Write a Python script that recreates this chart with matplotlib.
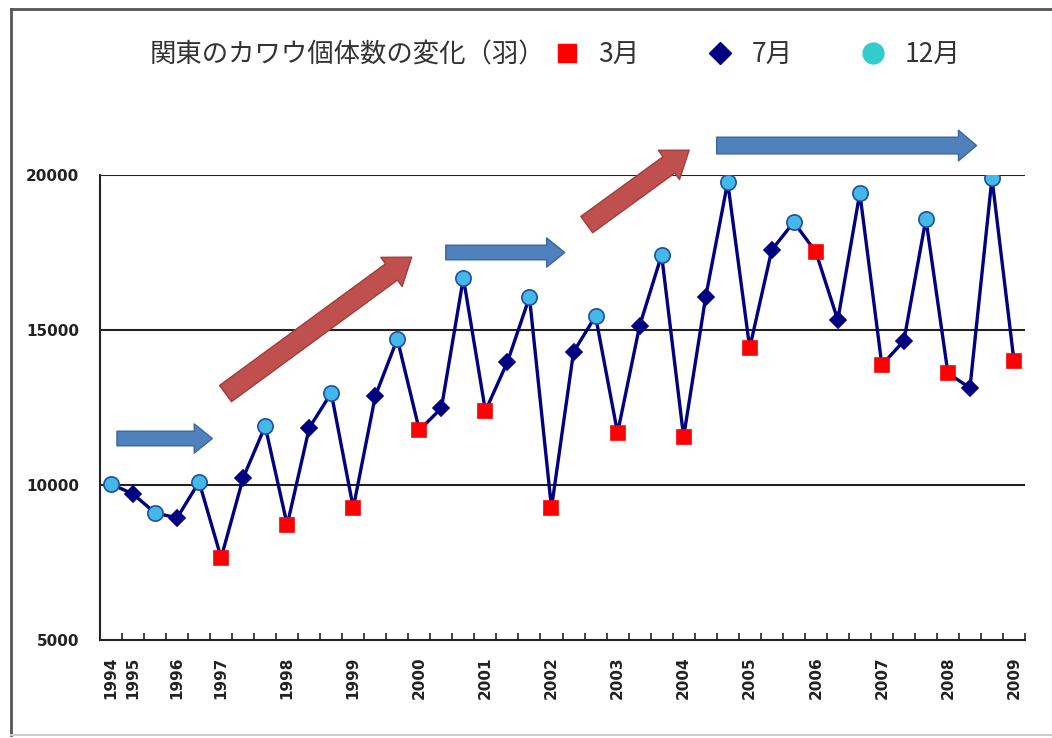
import matplotlib.pyplot as plt
from matplotlib.lines import Line2D

# 関東のカワウ個体数 (羽), 3月 / 7月 / 12月 の調査を時系列順に
months = ["12", "7", "12", "7", "12", "3", "7", "12", "3", "7", "12", "3", "7", "12",
          "3", "7", "12", "3", "7", "12", "3", "7", "12", "3", "7", "12", "3", "7",
          "12", "3", "7", "12", "3", "7", "12", "3", "7", "12", "3", "7", "12", "3"]
counts = [10030, 9710, 9100, 8940, 10100, 7650, 10230, 11900, 8710, 11840, 12970,
          9260, 12870, 14710, 11770, 12480, 16680, 12390, 13970, 16060, 9260, 14290,
          15450, 11680, 15130, 17420, 11550, 16060, 19770, 14420, 17580, 18480, 17520,
          15320, 19420, 13870, 14650, 18580, 13610, 13130, 19900, 14000]
year_labels = ["1994", "1995", "", "1996", "", "1997", "", "", "1998", "", "", "1999",
               "", "", "2000", "", "", "2001", "", "", "2002", "", "", "2003", "", "",
               "2004", "", "", "2005", "", "", "2006", "", "", "2007", "", "", "2008",
               "", "", "2009"]
yticks = [5000, 10000, 15000, 20000]

cjk = ["Noto Sans CJK JP", "DejaVu Sans"]
navy = "#000080"
style = {
    "3": dict(marker="s", color="#FF0000", mec="#FF0000", ms=10),
    "7": dict(marker="D", color=navy, mec=navy, ms=8),
    "12": dict(marker="o", color="#45B8EA", mec="#1F4FA0", ms=11),
}

fig = plt.figure(figsize=(10.52, 7.38), dpi=100)
ax = fig.add_axes([100/1052, 1-640/738, 925/1052, 465/738])

x = list(range(len(counts)))
ax.plot(x, counts, color=navy, lw=2.4, zorder=3)
for m in ["3", "7", "12"]:
    xs = [i for i in x if months[i] == m]
    ys = [counts[i] for i in xs]
    ax.plot(xs, ys, ls="none", mew=1.2, zorder=4, **style[m])

ax.set_xlim(-0.5, len(counts) - 0.5)
ax.set_ylim(5000, 20000)
ax.set_yticks(yticks)
ax.set_yticklabels([str(v) for v in yticks], fontsize=11, fontweight="bold", color="#222")
ax.tick_params(axis="y", length=0, pad=15)
for v in yticks[1:]:
    ax.axhline(v, color="#222", lw=1.5, zorder=1)

ax.set_xticks(x)
ax.set_xticklabels(year_labels, rotation=90, fontsize=11, fontweight="bold", color="#222")
ax.set_xticks([i - 0.5 for i in range(len(counts) + 1)], minor=True)
ax.tick_params(axis="x", which="major", length=0, pad=12)
ax.tick_params(axis="x", which="minor", direction="in", length=5, width=1.2, color="#222")
for s in ["top", "right"]:
    ax.spines[s].set_visible(False)
for s in ["left", "bottom"]:
    ax.spines[s].set_linewidth(1.5)
    ax.spines[s].set_color("#222")

# 傾向を示す矢印 (tail, tip, color)
arrows = [
    ((0.27, 11500), (4.6, 11500), "#4F81BD", "#3A679B", 1.05, 2.1, 1.3),
    ((5.2, 12950), (13.65, 17350), "#C0504D", "#A03E3B", 1.45, 2.6, 1.8),
    ((15.2, 17500), (20.6, 17500), "#4F81BD", "#3A679B", 1.05, 2.1, 1.3),
    ((21.6, 18400), (26.25, 20800), "#C0504D", "#A03E3B", 1.45, 2.6, 1.8),
    ((27.5, 20950), (39.3, 20950), "#4F81BD", "#3A679B", 1.2, 2.2, 1.3),
]
for tail, tip, fc, ec, tw, hw, hl in arrows:
    ax.annotate("", xy=tip, xytext=tail, annotation_clip=False,
                arrowprops=dict(arrowstyle=f"simple,head_length={hl},head_width={hw},tail_width={tw}",
                                fc=fc, ec=ec, lw=1, shrinkA=0, shrinkB=0, mutation_scale=10))

fig.text(150/1052, 1-55/738, "関東のカワウ個体数の変化（羽）", fontsize=19,
         family=cjk, color="#333", va="center", ha="left")
handles = [
    Line2D([], [], ls="none", marker="s", color="#FF0000", ms=13),
    Line2D([], [], ls="none", marker="D", color=navy, ms=11),
    Line2D([], [], ls="none", marker="o", color="#33CCCC", ms=15),
]
fig.legend(handles, ["3月", "7月", "12月"], ncol=3, frameon=False, loc="center left",
           bbox_to_anchor=(543/1052, 1-55/738), bbox_transform=fig.transFigure,
           prop=dict(family=cjk, size=19), labelcolor="#333", borderpad=0,
           handlelength=0.8, handletextpad=0.8, columnspacing=2.65)

# 外枠
fig.add_artist(Line2D([11/1052, 11/1052], [1-735/738, 1-9/738], transform=fig.transFigure,
                      color="#555", lw=2))
fig.add_artist(Line2D([11/1052, 1.0], [1-9/738, 1-9/738], transform=fig.transFigure,
                      color="#555", lw=2))
fig.add_artist(Line2D([11/1052, 1.0], [1-735/738, 1-735/738], transform=fig.transFigure,
                      color="#ccc", lw=1.5))

fig.savefig("out.png", dpi=100)
